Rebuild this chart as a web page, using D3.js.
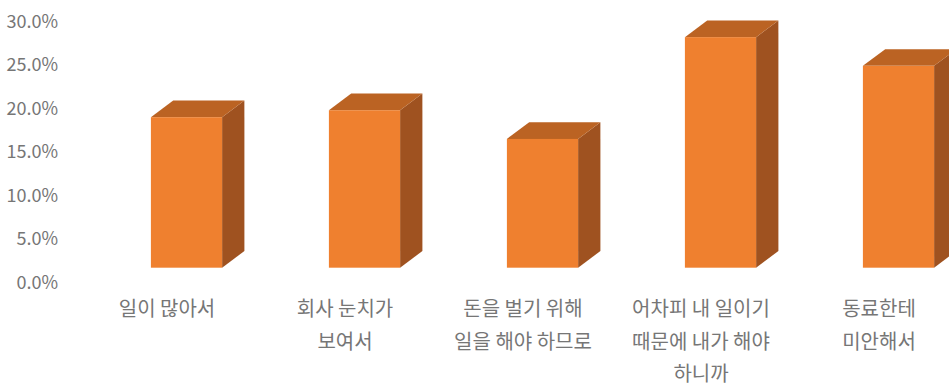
<!DOCTYPE html>
<html>
<head>
<meta charset="utf-8">
<script src="https://cdn.jsdelivr.net/npm/d3@7"></script>
<style>
  html, body { margin: 0; padding: 0; background: #fff; }
  svg { display: block; }
  text { font-family: "Noto Sans CJK KR", "Noto Sans", sans-serif; fill: #767676; }
</style>
</head>
<body>
<svg id="chart" width="949" height="387"></svg>
<script>
// Survey answers (category labels, line breaks as drawn under each column)
const categories = [
  "일이 많아서",
  "회사 눈치가\n보여서",
  "돈을 벌기 위해\n일을 해야 하므로",
  "어차피 내 일이기\n때문에 내가 해야\n하니까",
  "동료한테\n미안해서"
];
// Share of respondents per answer
const shares = [0.173, 0.181, 0.148, 0.265, 0.232];
// Value axis ticks
const yTicks = [0, 0.05, 0.10, 0.15, 0.20, 0.25, 0.30];

const svg = d3.select("#chart");

const y = d3.scaleLinear().domain([0, 0.30]).range([282.7, 21.7]);
const x = d3.scaleBand().domain(categories).range([78, 968])
  .paddingInner(0.6).paddingOuter(0.3);

// Oblique 3D projection: columns are set back from the floor front edge,
// and each column has its own depth.
const setback = { dx: 19.5, dy: -15 };
const depth = { dx: 22.3, dy: -16.7 };

// Value axis labels
const yAxis = d3.axisLeft(y).tickValues(yTicks).tickFormat(d3.format(".1%"))
  .tickSize(0).tickPadding(0);
const gy = svg.append("g").attr("transform", "translate(58,0)").call(yAxis);
gy.select(".domain").remove();
gy.selectAll("text").attr("font-size", 18)
  .style("font-family", "'Noto Sans CJK KR', sans-serif").attr("fill", "#767676");

// Columns
const bars = svg.append("g").selectAll("g").data(categories).join("g");
bars.each(function(c, i) {
  const g = d3.select(this);
  const x0 = x(c) + setback.dx;
  const x1 = x0 + x.bandwidth();
  const yb = y(0) + setback.dy;
  const yt = y(shares[i]) + setback.dy;
  // side face
  g.append("path")
    .attr("d", d3.line()([[x1, yt], [x1 + depth.dx, yt + depth.dy],
      [x1 + depth.dx, yb + depth.dy], [x1, yb]]) + "Z")
    .attr("fill", "#9f5220");
  // top face
  g.append("path")
    .attr("d", d3.line()([[x0, yt], [x0 + depth.dx, yt + depth.dy],
      [x1 + depth.dx, yt + depth.dy], [x1, yt]]) + "Z")
    .attr("fill", "#bb6323");
  // front face
  g.append("rect")
    .attr("x", x0).attr("y", yt)
    .attr("width", x1 - x0).attr("height", yb - yt)
    .attr("fill", "#ef802f");
});

// Category labels
const labels = svg.append("g").selectAll("text").data(categories).join("text")
  .attr("text-anchor", "middle")
  .attr("font-size", 20)
  .attr("x", d => x(d) + x.bandwidth() / 2)
  .attr("y", 316);
labels.selectAll("tspan").data(d => d.split("\n")).join("tspan")
  .attr("x", function() { return d3.select(this.parentNode).attr("x"); })
  .attr("dy", (d, i) => i === 0 ? 0 : 32.5)
  .text(d => d);
</script>
</body>
</html>
